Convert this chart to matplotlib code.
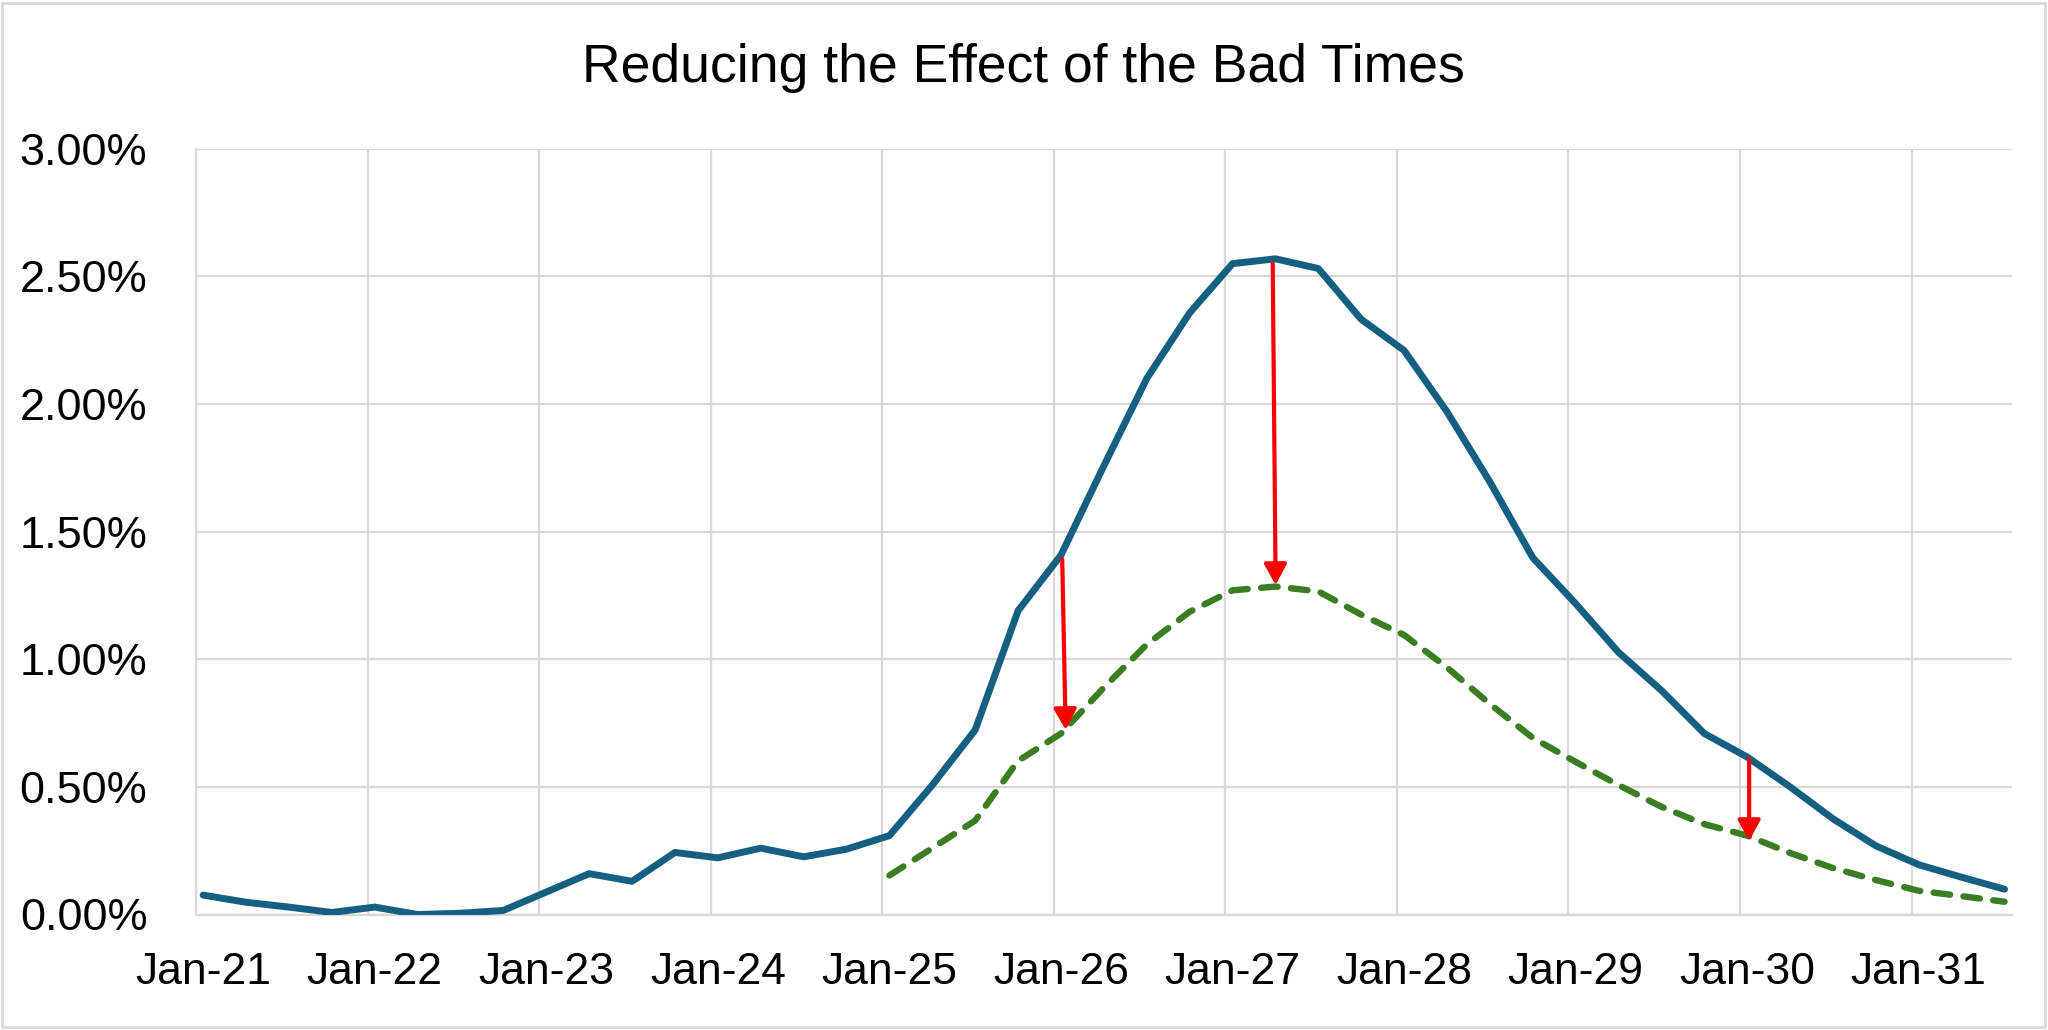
import matplotlib
matplotlib.use("Agg")
import matplotlib.pyplot as plt
from matplotlib import font_manager
from matplotlib.patches import FancyArrowPatch, Rectangle
import numpy as np

# ---------------- data ----------------
title = "Reducing the Effect of the Bad Times"

# quarterly observations, Jan-21 .. Jul-31 (year, month)
start_year, start_month = 2021, 1
base_rate = [
    0.076, 0.048, 0.029, 0.008,
    0.029, 0.000, 0.005, 0.016,
    0.088, 0.160, 0.130, 0.243,
    0.222, 0.260, 0.226, 0.256,
    0.309, 0.507, 0.723, 1.190,
    1.408, 1.758, 2.100, 2.357,
    2.550, 2.569, 2.531, 2.332,
    2.210, 1.970, 1.695, 1.398,
    1.218, 1.027, 0.878, 0.709,
    0.617, 0.500, 0.375, 0.269,
    0.195, 0.146, 0.099,
]
# reduced series, Jan-25 .. Jul-31
reduced_start_year = 2025
reduced_rate = [
    0.153, 0.260, 0.368, 0.602,
    0.709, 0.889, 1.058, 1.186,
    1.270, 1.285, 1.266, 1.175,
    1.095, 0.968, 0.825, 0.692,
    0.598, 0.507, 0.422, 0.354,
    0.309, 0.241, 0.182, 0.135,
    0.093, 0.072, 0.050,
]
year_labels = ["Jan-21", "Jan-22", "Jan-23", "Jan-24", "Jan-25", "Jan-26",
               "Jan-27", "Jan-28", "Jan-29", "Jan-30", "Jan-31"]
y_ticks = [0.0, 0.5, 1.0, 1.5, 2.0, 2.5, 3.0]
# arrows: (x_start, y_start, x_end, y_end) in (fractional year, %)
arrows = [
    (2026.049, 1.392, 2026.069, 0.723),
    (2027.276, 2.552, 2027.293, 1.291),
    (2030.053, 0.608, 2030.053, 0.288),
]

# --------------- helpers ---------------
def quarter_x(y0, n):
    # monthly date axis: each point sits in the middle of its month
    return np.array([y0 + (3 * i) / 12.0 + 1 / 24.0 for i in range(n)])

x_base = quarter_x(start_year, len(base_rate))
x_red = quarter_x(reduced_start_year, len(reduced_rate))

avail = {f.name for f in font_manager.fontManager.ttflist}
family = "Liberation Sans" if "Liberation Sans" in avail else "DejaVu Sans"
plt.rcParams["font.family"] = [family, "DejaVu Sans"]

W, H, DPI = 2048, 1030, 100
fig = plt.figure(figsize=(W / DPI, H / DPI), dpi=DPI)
fig.patch.set_facecolor("white")

left, right = 196 / W, 2011.7 / W
bottom, top = (H - 914.5) / H, (H - 148.8) / H
ax = fig.add_axes([left, bottom, right - left, top - bottom])

grid_c = "#D9D9D9"
blue = "#156082"
green = "#3A7D22"

ax.plot(x_base, base_rate, color=blue, lw=5.0, solid_joinstyle="round",
        solid_capstyle="round", zorder=3)
ax.plot(x_red, reduced_rate, color=green, lw=4.6, dashes=(2.6, 2.1),
        dash_capstyle="round", zorder=3)

for (xa, ya, xb, yb) in arrows:
    arr = FancyArrowPatch((xa, ya), (xb, yb),
                          arrowstyle="-|>,head_length=12.5,head_width=6.8",
                          mutation_scale=1, color="#FF0000", lw=3.0,
                          shrinkA=0, shrinkB=0, zorder=4)
    ax.add_patch(arr)

x_min, x_max = 2021.0, 2031 + 7 / 12
ax.set_xlim(x_min, x_max)
ax.set_ylim(0, 3.0)

years = np.arange(2021, 2032)
ax.set_xticks(years)
ax.set_xticklabels([""] * len(years))
ax.set_xticks(years + 1 / 24, minor=True)
ax.set_xticklabels(year_labels, minor=True)
ax.set_yticks(y_ticks)
ax.set_yticklabels([f"{v:.2f}%" for v in y_ticks])

ax.tick_params(axis="both", which="both", length=0)
ax.tick_params(axis="x", which="minor", labelsize=32, pad=27, colors="black")
ax.tick_params(axis="y", labelsize=32.5, pad=35, colors="black")

ax.grid(True, which="major", color=grid_c, lw=1.6)
ax.set_axisbelow(True)
for s in ["top", "right"]:
    ax.spines[s].set_visible(False)
for s in ["left", "bottom"]:
    ax.spines[s].set_color(grid_c)
    ax.spines[s].set_linewidth(1.6)

fig.text(0.4995, 1 - 81.7 / H, title, ha="center", va="baseline",
         fontsize=38.5, color="black")

# chart-area border
fig.patches.append(Rectangle((1.5 / W, 3 / H), (2045 - 1.5) / W, (1027 - 3) / H,
                             transform=fig.transFigure, fill=False,
                             edgecolor=grid_c, lw=2.0))

fig.savefig("out.png", dpi=DPI, facecolor="white")
